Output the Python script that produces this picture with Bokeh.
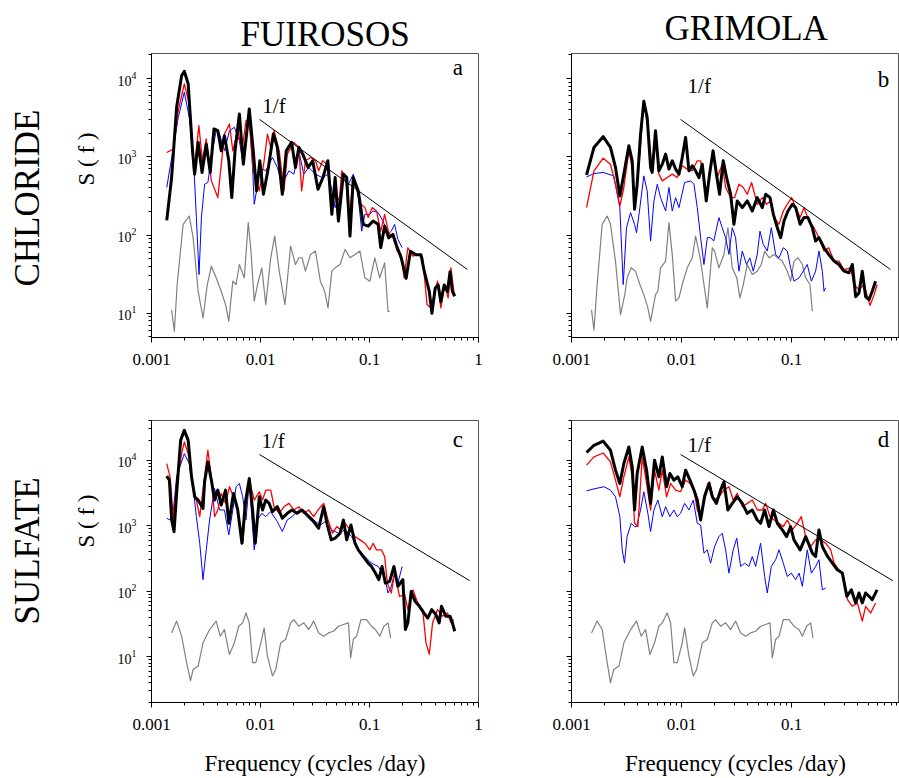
from bokeh.embed import file_html
from bokeh.layouts import column, row
from bokeh.models import CustomJSTickFormatter, Label, Range1d, Title
from bokeh.plotting import figure
from bokeh.resources import INLINE

SERIF = "Liberation Serif"
GREY, BLUE, RED, BLACK = "#808080", "#0000ff", "#ff0000", "#000000"

# ---------------------------------------------------------------- text
sites = ["FUIROSOS", "GRIMOLA"]
solutes = ["CHLORIDE", "SULFATE"]
panel_tags = ["a", "b", "c", "d"]
x_title = "Frequency (cycles /day)"
y_title = "S ( f )"
slope_tag = "1/f"

# ---------------------------------------------------------------- spectra, (frequency, power) pairs
# a: Fuirosos chloride
a_black = [(0.00138, 154), (0.00153, 543), (0.00170, 4290), (0.00189, 10900), (0.00200, 12400),
           (0.00217, 8550), (0.00238, 1190), (0.00249, 600), (0.00268, 1530), (0.00291, 630),
           (0.00318, 1450), (0.00346, 630), (0.00374, 2270), (0.00406, 2160), (0.00436, 1190),
           (0.00467, 1860), (0.00512, 889), (0.00545, 301), (0.00584, 1190), (0.00640, 3530),
           (0.00696, 805), (0.00789, 4090), (0.00858, 1190), (0.00920, 366), (0.00986, 889),
           (0.01064, 332), (0.01182, 730), (0.01312, 1960), (0.01427, 1320), (0.01585, 332),
           (0.01723, 1190), (0.01927, 1530), (0.02094, 730), (0.02246, 1320), (0.02443, 1080),
           (0.02731, 730), (0.03012, 889), (0.03367, 384), (0.03739, 543), (0.0415, 889),
           (0.04513, 184), (0.04838, 543), (0.05188, 151), (0.05763, 600), (0.0618, 543),
           (0.06624, 97), (0.07103, 543), (0.07889, 366), (0.08757, 137), (0.09727, 130),
           (0.1080, 151), (0.1199, 137), (0.1268, 69), (0.1377, 130), (0.1499, 92),
           (0.1641, 102), (0.1797, 69), (0.1954, 51), (0.2169, 28), (0.2374, 62),
           (0.2673, 56), (0.2969, 56), (0.3184, 34), (0.3536, 19), (0.3738, 10),
           (0.4009, 21), (0.4266, 23), (0.4513, 14), (0.4842, 23), (0.5188, 19),
           (0.5485, 34), (0.5763, 19), (0.6053, 16.5)]
a_red = [(0.00138, 1135), (0.00159, 1255), (0.00176, 3890), (0.00200, 8540), (0.00222, 4730),
         (0.00244, 600), (0.00272, 2500), (0.00293, 889), (0.00318, 1690), (0.00354, 492),
         (0.00406, 301), (0.00467, 1953), (0.00519, 2625), (0.00557, 1194), (0.00618, 2155),
         (0.00676, 1194), (0.00736, 2895), (0.00789, 2760), (0.00858, 662), (0.00975, 367),
         (0.01080, 889), (0.01158, 1953), (0.01241, 1317), (0.01331, 2155), (0.01485, 1194),
         (0.01642, 367), (0.01760, 1082), (0.02023, 1530), (0.02246, 1317), (0.02385, 367),
         (0.02585, 889), (0.02878, 980), (0.03195, 889), (0.03415, 662), (0.03715, 889),
         (0.04067, 805), (0.04513, 247), (0.04838, 367), (0.05125, 167), (0.05565, 662),
         (0.06052, 543), (0.06487, 137), (0.06957, 446), (0.0762, 405), (0.0836, 247),
         (0.0907, 224), (0.0973, 167), (0.1057, 224), (0.1159, 203), (0.1268, 112),
         (0.1377, 184), (0.1499, 107), (0.1641, 92.5), (0.1797, 62.4), (0.1954, 56.5),
         (0.2075, 28.4), (0.2248, 68.8), (0.2501, 53.8), (0.2771, 56.5), (0.3075, 51.2),
         (0.3372, 12.9), (0.3666, 11.7), (0.3925, 17.3), (0.4209, 25.7), (0.4513, 11.7),
         (0.4907, 23.3), (0.5262, 15.7), (0.5587, 38.1), (0.5932, 19.1), (0.6053, 17.3)]
a_blue = [(0.00138, 405), (0.00159, 1317), (0.00176, 3190), (0.00200, 6680), (0.00222, 3190),
          (0.00241, 1194), (0.00258, 167), (0.00273, 31.3), (0.00287, 167), (0.00307, 446),
          (0.00329, 469), (0.00354, 980), (0.00392, 2155), (0.00421, 1953), (0.00467, 1194),
          (0.00519, 2155), (0.00576, 2380), (0.00640, 1604), (0.00686, 889), (0.00736, 1770),
          (0.00789, 3040), (0.00846, 730), (0.00876, 247), (0.00920, 367), (0.00986, 730),
          (0.01118, 662), (0.01287, 980), (0.01427, 730), (0.01585, 446), (0.01822, 662),
          (0.02023, 600), (0.02246, 1194), (0.02495, 600), (0.02771, 730), (0.03195, 600),
          (0.03662, 543), (0.04210, 600), (0.04513, 367), (0.04838, 224), (0.05262, 301),
          (0.05763, 543), (0.06410, 446), (0.07103, 600), (0.07889, 301), (0.08484, 112),
          (0.0907, 184), (0.1007, 184), (0.1080, 203), (0.1199, 194), (0.1331, 151),
          (0.1478, 102), (0.1585, 112), (0.1698, 137), (0.1822, 88), (0.1995, 68.8)]
a_grey = [(0.00153, 11.1), (0.00162, 5.9), (0.00172, 23.3), (0.00195, 137), (0.00222, 175),
          (0.00241, 92.5), (0.00268, 19.1), (0.00297, 8.7), (0.00325, 23.3), (0.00354, 40),
          (0.00392, 28.4), (0.00436, 19.1), (0.00478, 12.9), (0.00512, 7.9), (0.00557, 25.7),
          (0.00597, 23.3), (0.00640, 42), (0.00710, 28.4), (0.00772, 144), (0.00818, 62.4),
          (0.00876, 14.3), (0.00939, 23.3), (0.01028, 38.1), (0.01118, 12.9), (0.01241, 51.2),
          (0.01350, 97), (0.01485, 34.5), (0.01676, 12.9), (0.01888, 72), (0.02094, 42),
          (0.02246, 51.2), (0.02409, 51.2), (0.02585, 34.5), (0.02878, 56.5), (0.03195, 62.4),
          (0.03539, 25.7), (0.03881, 19.1), (0.04163, 11.7), (0.04513, 34.5), (0.04838, 38.1),
          (0.05374, 42), (0.05969, 65.5), (0.06624, 51.2), (0.07362, 56.5), (0.08167, 62.4),
          (0.0907, 28.4), (0.1007, 25.7), (0.1118, 51.2), (0.1241, 28.4), (0.1377, 44),
          (0.1478, 10.6), (0.1531, 10.6)]

# b: Grimola chloride
b_black = [(0.00137, 588), (0.00160, 1317), (0.00194, 1810), (0.00226, 1317), (0.00251, 730),
           (0.00275, 316), (0.00299, 600), (0.00332, 1385), (0.00356, 889), (0.00374, 214),
           (0.00395, 446), (0.00424, 1953), (0.00454, 5120), (0.00487, 3190), (0.00523, 730),
           (0.00541, 631), (0.00580, 2155), (0.00622, 662), (0.00668, 805), (0.00716, 1082),
           (0.00768, 696), (0.00823, 889), (0.00883, 696), (0.00947, 600), (0.01014, 980),
           (0.01088, 1770), (0.01167, 662), (0.01252, 767), (0.01341, 662), (0.01438, 543),
           (0.01542, 805), (0.01676, 273), (0.01798, 600), (0.01933, 1194), (0.02073, 600),
           (0.02214, 332), (0.02391, 889), (0.02564, 543), (0.02791, 332), (0.02991, 137),
           (0.03207, 273), (0.03563, 224), (0.03952, 273), (0.04390, 203), (0.04873, 301),
           (0.05411, 224), (0.05807, 332), (0.06361, 301), (0.06824, 184), (0.07415, 124),
           (0.07950, 92.5), (0.08523, 151), (0.09262, 203), (0.1014, 247), (0.1088, 224),
           (0.1195, 137), (0.1295, 167), (0.1407, 167), (0.1542, 124), (0.1652, 83.8),
           (0.1771, 92.5), (0.1969, 68.8), (0.2169, 56.5), (0.2431, 46.4), (0.2691, 42),
           (0.2990, 34.5), (0.3322, 33), (0.3560, 42), (0.3817, 16.3), (0.4090, 18.1),
           (0.4385, 34.5), (0.4700, 16.3), (0.5040, 14.9), (0.5400, 19.1), (0.5790, 25.7)]
b_red = [(0.00137, 224), (0.00160, 662), (0.00194, 960), (0.00226, 805), (0.00251, 446),
         (0.00275, 235), (0.00299, 405), (0.00332, 1194), (0.00356, 730), (0.00374, 224),
         (0.00409, 730), (0.00454, 4980), (0.00505, 1953), (0.00541, 662), (0.00580, 1953),
         (0.00622, 600), (0.00668, 492), (0.00741, 543), (0.00823, 600), (0.00913, 543),
         (0.01014, 767), (0.01126, 696), (0.01252, 662), (0.01389, 889), (0.01490, 889),
         (0.01676, 332), (0.01835, 730), (0.01933, 1194), (0.02108, 543), (0.02340, 805),
         (0.02513, 405), (0.02791, 301), (0.03033, 301), (0.03319, 446), (0.03636, 405),
         (0.03952, 332), (0.04329, 469), (0.04873, 247), (0.05411, 301), (0.05926, 247),
         (0.06441, 273), (0.06910, 167), (0.07677, 137), (0.08402, 203), (0.09131, 247),
         (0.1000, 301), (0.1088, 224), (0.1195, 167), (0.1295, 224), (0.1437, 151),
         (0.1596, 124), (0.1771, 92.5), (0.1969, 62.4), (0.2169, 68.8), (0.2431, 46.4),
         (0.2691, 46.4), (0.2990, 36), (0.3435, 38.1), (0.3686, 23.3), (0.4090, 20),
         (0.4545, 23.3), (0.5150, 12.6), (0.5625, 17.3), (0.5975, 23.3)]
b_blue = [(0.00137, 553), (0.00160, 610), (0.00194, 631), (0.00242, 570), (0.00275, 224),
          (0.00295, 23.3), (0.00316, 124), (0.00344, 193), (0.00374, 137), (0.00390, 107),
          (0.00418, 224), (0.00454, 570), (0.00487, 367), (0.00523, 83.8), (0.00561, 273),
          (0.00602, 446), (0.00644, 301), (0.00716, 203), (0.00768, 405), (0.00823, 203),
          (0.00883, 301), (0.00947, 224), (0.01066, 469), (0.01209, 492), (0.01296, 446),
          (0.01389, 224), (0.01490, 92.5), (0.01597, 42), (0.01713, 92.5), (0.01835, 92.5),
          (0.01961, 83.8), (0.02184, 167), (0.02340, 124), (0.02513, 92.5), (0.02694, 56.5),
          (0.02888, 124), (0.03096, 92.5), (0.03319, 34.5), (0.03563, 62.4), (0.03892, 42),
          (0.04173, 51.2), (0.04479, 34.5), (0.04873, 56.5), (0.05157, 112), (0.05525, 75.9),
          (0.06007, 62.4), (0.06533, 124), (0.07155, 56.5), (0.07677, 51.2), (0.08402, 68.8),
          (0.09131, 62.4), (0.09792, 38.1), (0.1050, 25.7), (0.1169, 28.4), (0.1276, 34.5),
          (0.1387, 42), (0.1510, 25.7), (0.1652, 34.5), (0.1771, 62.4), (0.1901, 34.5),
          (0.1969, 19.1), (0.2037, 21.1)]
b_grey = [(0.00152, 11.1), (0.00160, 6.1), (0.00171, 23.3), (0.00190, 137), (0.00211, 175),
          (0.00226, 137), (0.00251, 46.4), (0.00279, 9.6), (0.00305, 17.3), (0.00320, 28.4),
          (0.00349, 38.1), (0.00381, 34.5), (0.00418, 23.3), (0.00454, 17.3), (0.00494, 11.7),
          (0.00523, 7.9), (0.00580, 17.3), (0.00609, 19.1), (0.00644, 38.1), (0.00716, 46.4),
          (0.00768, 144), (0.00823, 56.5), (0.00883, 14.3), (0.00947, 15.7), (0.01014, 23.3),
          (0.01126, 38.1), (0.01252, 51.2), (0.01341, 97), (0.01475, 51.2), (0.01597, 23.3),
          (0.01713, 11.7), (0.01901, 68.8), (0.01995, 62.4), (0.02184, 38.1), (0.02426, 56.5),
          (0.02636, 124), (0.02888, 38.1), (0.03172, 28.4), (0.03390, 15.7), (0.03636, 23.3),
          (0.03952, 42), (0.04390, 31.3), (0.04873, 34.5), (0.05300, 42), (0.05683, 62.4),
          (0.06230, 51.2), (0.06910, 56.5), (0.07415, 51.2), (0.08228, 46.4), (0.09131, 34.5),
          (0.09792, 25.7), (0.1050, 46.4), (0.1143, 51.2), (0.1251, 42), (0.1342, 28.4),
          (0.1467, 23.3), (0.1542, 10.6)]

# c: Fuirosos sulfate
c_black = [(0.00138, 5700), (0.00146, 4970), (0.00153, 1224), (0.00161, 810), (0.00170, 3115),
           (0.00185, 20100), (0.00200, 28600), (0.00217, 20100), (0.00233, 5580), (0.00249, 2770),
           (0.00268, 2465), (0.00297, 1840), (0.00307, 4690), (0.00329, 9430), (0.00354, 4970),
           (0.00379, 2465), (0.00406, 3500), (0.00436, 2070), (0.00478, 3500), (0.00512, 1089),
           (0.00565, 3115), (0.00618, 1738), (0.00676, 541), (0.00725, 2195), (0.00789, 5260),
           (0.00846, 1738), (0.00896, 541), (0.00975, 2770), (0.01044, 1738), (0.01118, 2465),
           (0.01199, 2195), (0.01287, 1640), (0.01427, 1953), (0.01585, 1300), (0.01760, 1546),
           (0.01947, 1738), (0.02161, 1546), (0.02409, 1738), (0.02771, 1376), (0.03075, 1155),
           (0.03415, 915), (0.03800, 1953), (0.04067, 1089), (0.04455, 608), (0.04838, 645),
           (0.05374, 768), (0.05763, 1224), (0.06180, 608), (0.06762, 1027), (0.07362, 541),
           (0.07889, 428), (0.08757, 339), (0.09727, 268), (0.1043, 239), (0.1133, 189),
           (0.1216, 150), (0.1305, 239), (0.1398, 133), (0.1531, 141), (0.1676, 239),
           (0.1822, 119), (0.2023, 150), (0.2135, 26), (0.2248, 32.9), (0.2412, 99),
           (0.2619, 70), (0.2868, 58.9), (0.3149, 46.6), (0.3421, 39), (0.3720, 52.4),
           (0.4065, 44), (0.4360, 32.9), (0.4578, 58.9), (0.5012, 41.5), (0.5485, 41.5),
           (0.5763, 32.9), (0.6053, 24.5)]
c_red = [(0.00138, 8900), (0.00148, 5580), (0.00159, 1224), (0.00170, 4420), (0.00189, 12600),
         (0.00200, 19000), (0.00217, 12600), (0.00233, 4970), (0.00258, 2465), (0.00277, 1376),
         (0.00307, 5580), (0.00329, 14200), (0.00354, 5580), (0.00379, 1376), (0.00406, 1738),
         (0.00436, 3115), (0.00478, 2195), (0.00519, 3935), (0.00565, 2770), (0.00618, 1738),
         (0.00686, 541), (0.00736, 1953), (0.00789, 4970), (0.00876, 2465), (0.00975, 3300),
         (0.01044, 2465), (0.01118, 3500), (0.01241, 3500), (0.01331, 1953), (0.01485, 1546),
         (0.01642, 1953), (0.01822, 2195), (0.02023, 1738), (0.02246, 1953), (0.02495, 1546),
         (0.02771, 1738), (0.03075, 1376), (0.03367, 1738), (0.03800, 2195), (0.04163, 1224),
         (0.04577, 768), (0.05012, 969), (0.05489, 863), (0.05969, 1089), (0.06624, 863),
         (0.07362, 683), (0.08167, 608), (0.0907, 541), (0.1007, 428), (0.1080, 541),
         (0.1159, 428), (0.1287, 428), (0.1377, 339), (0.1457, 133), (0.1585, 94),
         (0.1698, 189), (0.1887, 83.6), (0.2107, 89), (0.2248, 52.4), (0.2501, 105),
         (0.2771, 66.2), (0.3075, 52.4), (0.3298, 16.3), (0.3536, 10.9), (0.3791, 32.9),
         (0.4209, 52.4), (0.4668, 41.5), (0.5188, 46.6), (0.5587, 32.9), (0.5932, 36.9)]
c_blue = [(0.00138, 1300), (0.00148, 1224), (0.00159, 1738), (0.00170, 5580), (0.00200, 12600),
          (0.00222, 8900), (0.00241, 3935), (0.00258, 1376), (0.00277, 541), (0.00297, 150),
          (0.00318, 428), (0.00341, 1224), (0.00379, 3700), (0.00421, 1738), (0.00467, 1738),
          (0.00512, 725), (0.00557, 1738), (0.00597, 3935), (0.00640, 4420), (0.00686, 2770),
          (0.00736, 1224), (0.00789, 4690), (0.00876, 428), (0.00939, 1224), (0.01028, 1546),
          (0.01118, 1376), (0.01241, 1640), (0.01427, 1155), (0.01585, 815), (0.01760, 1224),
          (0.01947, 1376), (0.02246, 1738), (0.02585, 1546), (0.02878, 1376), (0.03195, 1155),
          (0.03539, 1027), (0.03922, 1155), (0.04513, 863), (0.05188, 768), (0.05969, 863),
          (0.06855, 683), (0.07889, 428), (0.0907, 339), (0.1043, 268), (0.1199, 239),
          (0.1377, 168), (0.1478, 94), (0.1585, 119), (0.1698, 189), (0.1822, 133),
          (0.1995, 239)]
c_grey = [(0.00153, 23.1), (0.00170, 35), (0.00189, 20.6), (0.00210, 8.1), (0.00228, 4.3),
          (0.00241, 6.4), (0.00268, 7.2), (0.00297, 16.3), (0.00341, 26), (0.00392, 35),
          (0.00427, 20.6), (0.00467, 26), (0.00519, 10.8), (0.00576, 16.3), (0.00631, 29.2),
          (0.00686, 32.9), (0.00736, 46.6), (0.00789, 32.9), (0.00846, 8.1), (0.00907, 8.1),
          (0.01007, 16.3), (0.01080, 27.6), (0.01158, 10.2), (0.01287, 5.1), (0.01380, 6.4),
          (0.01531, 16.3), (0.01700, 18.3), (0.01888, 32.9), (0.02023, 36.9), (0.02246, 29.2),
          (0.02495, 32.9), (0.02771, 26), (0.03075, 35), (0.03415, 23.1), (0.03800, 20.6),
          (0.04210, 23.1), (0.04675, 24.5), (0.05188, 29.2), (0.05763, 31), (0.06410, 32.9),
          (0.06715, 9.6), (0.07103, 18.3), (0.07621, 20.6), (0.08343, 36.9), (0.09391, 36.9),
          (0.1043, 29.2), (0.1133, 26), (0.1241, 20.6), (0.1358, 29.2), (0.1478, 32.9),
          (0.1563, 19.4)]

# d: Grimola sulfate
d_black = [(0.00137, 13100), (0.00160, 16900), (0.00194, 19600), (0.00226, 14200), (0.00251, 7050),
           (0.00275, 4420), (0.00299, 8900), (0.00332, 15950), (0.00356, 7920), (0.00374, 1738),
           (0.00395, 6270), (0.00439, 15950), (0.00481, 7050), (0.00523, 2195), (0.00568, 10000),
           (0.00622, 5580), (0.00668, 11240), (0.00731, 3935), (0.00783, 6270), (0.00852, 4970),
           (0.00925, 5580), (0.01014, 3935), (0.01088, 7050), (0.01192, 4970), (0.01296, 3500),
           (0.01389, 2465), (0.01490, 1224), (0.01618, 2770), (0.01773, 4420), (0.01901, 2770),
           (0.02073, 2195), (0.02262, 3500), (0.02426, 4690), (0.02636, 1738), (0.02888, 2195),
           (0.03207, 2770), (0.03563, 2195), (0.03952, 1546), (0.04390, 1738), (0.04873, 1224),
           (0.05225, 1089), (0.05683, 1738), (0.06230, 969), (0.06824, 1738), (0.07415, 1089),
           (0.08228, 863), (0.09000, 683), (0.09792, 969), (0.1050, 608), (0.1195, 428),
           (0.1342, 683), (0.1542, 381), (0.1652, 339), (0.1771, 863), (0.1901, 481),
           (0.2121, 339), (0.2345, 268), (0.2600, 212), (0.2889, 189), (0.3171, 83.6),
           (0.3487, 105), (0.3817, 66.2), (0.4090, 94), (0.4385, 66.2), (0.4700, 94),
           (0.5040, 83.6), (0.5400, 74.4), (0.5975, 105)]
d_red = [(0.00137, 8400), (0.00160, 11240), (0.00194, 12900), (0.00226, 9430), (0.00251, 4970),
         (0.00275, 2770), (0.00299, 5580), (0.00332, 11240), (0.00356, 5580), (0.00374, 1089),
         (0.00401, 969), (0.00439, 11240), (0.00481, 4420), (0.00523, 1738), (0.00568, 7050),
         (0.00622, 3500), (0.00668, 7050), (0.00731, 2770), (0.00795, 4420), (0.00883, 3500),
         (0.00979, 3300), (0.01088, 4970), (0.01192, 4420), (0.01296, 3500), (0.01389, 1738),
         (0.01490, 1376), (0.01618, 3115), (0.01798, 4690), (0.01961, 2465), (0.02184, 2770),
         (0.02426, 3500), (0.02694, 3935), (0.02945, 2465), (0.03207, 3115), (0.03563, 1953),
         (0.03952, 2195), (0.04390, 2465), (0.04873, 1738), (0.05411, 1738), (0.05807, 2195),
         (0.06361, 1376), (0.06910, 1224), (0.07677, 1089), (0.08402, 969), (0.09131, 1224),
         (0.1014, 863), (0.1124, 1089), (0.1224, 1376), (0.1342, 683), (0.1488, 481),
         (0.1652, 608), (0.1836, 608), (0.2037, 541), (0.2264, 428), (0.2431, 268),
         (0.2691, 212), (0.2948, 168), (0.3217, 74.4), (0.3560, 58.9), (0.3956, 66.2),
         (0.4385, 35), (0.4700, 58.9), (0.5226, 46.6), (0.5790, 66.2)]
d_blue = [(0.00137, 3400), (0.00160, 3650), (0.00197, 3935), (0.00226, 3500), (0.00251, 2770),
          (0.00275, 1376), (0.00289, 428), (0.00303, 268), (0.00320, 683), (0.00349, 1089),
          (0.00374, 969), (0.00390, 969), (0.00424, 1738), (0.00454, 3300), (0.00494, 1546),
          (0.00523, 815), (0.00561, 1738), (0.00609, 2465), (0.00668, 1376), (0.00716, 1953),
          (0.00783, 1376), (0.00852, 1738), (0.00913, 1376), (0.00979, 1546), (0.01066, 2195),
          (0.01167, 1738), (0.01278, 2465), (0.01389, 1089), (0.01490, 1027), (0.01597, 381),
          (0.01713, 428), (0.01835, 268), (0.01995, 481), (0.02184, 683), (0.02340, 768),
          (0.02513, 428), (0.02694, 189), (0.02945, 428), (0.03172, 645), (0.03439, 239),
          (0.03741, 268), (0.04094, 239), (0.04390, 339), (0.04708, 239), (0.05225, 541),
          (0.05683, 168), (0.06007, 94), (0.06533, 239), (0.07155, 302), (0.07677, 428),
          (0.08402, 268), (0.09131, 168), (0.09930, 189), (0.1088, 150), (0.1169, 189),
          (0.1251, 119), (0.1387, 428), (0.1510, 189), (0.1652, 239), (0.1771, 302),
          (0.1901, 105), (0.2037, 112)]
d_grey = [(0.00152, 23.1), (0.00171, 35), (0.00190, 26), (0.00211, 8.1), (0.00226, 4.0),
          (0.00242, 6.4), (0.00270, 7.2), (0.00299, 16.3), (0.00344, 26), (0.00390, 35),
          (0.00430, 20.6), (0.00471, 26), (0.00516, 10.8), (0.00568, 16.3), (0.00622, 29.2),
          (0.00668, 32.9), (0.00741, 46.6), (0.00795, 32.9), (0.00852, 8.1), (0.00913, 8.1),
          (0.01014, 16.3), (0.01066, 27.6), (0.01167, 10.2), (0.01278, 5.1), (0.01370, 6.4),
          (0.01542, 16.3), (0.01713, 18.3), (0.01901, 32.9), (0.02037, 36.9), (0.02262, 29.2),
          (0.02513, 32.9), (0.02791, 26), (0.03096, 35), (0.03439, 23.1), (0.03829, 20.6),
          (0.04240, 23.1), (0.04708, 24.5), (0.05225, 29.2), (0.05807, 31), (0.06361, 32.9),
          (0.06670, 9.6), (0.07155, 18.3), (0.07677, 20.6), (0.08402, 36.9), (0.09457, 36.9),
          (0.1050, 29.2), (0.1169, 26), (0.1251, 20.6), (0.1367, 29.2), (0.1488, 32.9),
          (0.1563, 19.4)]

# 1/f reference lines (chloride row, sulfate row)
ref_cl_f = [0.0098, 0.79]
ref_cl_s = [3000, 36.3]
ref_so4_f = [0.0098, 0.83]
ref_so4_s = [12200, 145]


def unzip(pairs):
    return [p[0] for p in pairs], [p[1] for p in pairs]


def spectrum_panel(width, height, x_end, y_lo, y_hi, borders, y_labels):
    left, right, top, bottom = borders
    p = figure(width=width, height=height,
               x_axis_type="log", y_axis_type="log",
               x_range=Range1d(0.001, x_end), y_range=Range1d(y_lo, y_hi),
               output_backend="svg", toolbar_location=None,
               min_border_left=left, min_border_right=right,
               min_border_top=top, min_border_bottom=bottom)
    p.grid.visible = False
    p.background_fill_color = "white"
    p.border_fill_color = "white"
    p.outline_line_color = "#555555"
    for ax in (p.xaxis[0], p.yaxis[0]):
        ax.axis_line_color = "black"
        ax.major_tick_line_color = "black"
        ax.minor_tick_line_color = "black"
        ax.major_tick_in = 0
        ax.major_tick_out = 5
        ax.minor_tick_in = 0
        ax.minor_tick_out = 3
        ax.major_label_text_font = SERIF
        ax.major_label_text_color = "black"
    p.xaxis.formatter = CustomJSTickFormatter(
        code="return Number(tick.toPrecision(3)).toString();")
    p.xaxis.major_label_text_font_size = "17px"
    p.xaxis.major_label_standoff = 11
    p.yaxis.major_label_text_font_size = "14px"
    p.yaxis.major_label_standoff = 10
    if not y_labels:
        p.yaxis.formatter = CustomJSTickFormatter(code="return '';")
    return p


def style_title(t, size, offset, standoff, valign):
    t.text_font = SERIF
    t.text_font_size = size
    t.text_font_style = "normal"
    t.text_color = "black"
    t.align = "left"
    t.offset = offset
    t.standoff = standoff
    t.vertical_align = valign
    return t


def side_title(p, txt, size, offset, standoff, valign):
    p.add_layout(style_title(Title(text=txt), size, offset, standoff, valign), "left")


def draw_spectra(p, grey, blue, red, black, ref_f, ref_s):
    for pairs, colour, w in ((grey, GREY, 1.2), (blue, BLUE, 1.0),
                             (red, RED, 1.3), (black, BLACK, 3.0)):
        f, s = unzip(pairs)
        p.line(f, s, line_color=colour, line_width=w, line_join="round")
    p.line(ref_f, ref_s, line_color="black", line_width=1)


def tag(p, x, y, txt, size):
    p.add_layout(Label(x=x, y=y, text=txt, text_font=SERIF, text_font_size=size,
                       text_color="black", text_baseline="alphabetic"))


def x_axis_title(p):
    p.xaxis.axis_label = x_title
    p.xaxis.axis_label_text_font = SERIF
    p.xaxis.axis_label_text_font_size = "23px"
    p.xaxis.axis_label_text_font_style = "normal"
    p.xaxis.axis_label_text_color = "black"
    p.xaxis.axis_label_standoff = 18


pa = spectrum_panel(520, 390, 1.0, 4.9, 20900, (148, 42, 53, 53), True)
pb = spectrum_panel(379, 390, 0.955, 4.9, 20900, (51, 0, 53, 53), False)
pc = spectrum_panel(520, 388, 1.0, 2.0, 40400, (148, 42, 30, 75), True)
pd = spectrum_panel(379, 388, 0.955, 2.0, 40400, (51, 0, 30, 75), False)

draw_spectra(pa, a_grey, a_blue, a_red, a_black, ref_cl_f, ref_cl_s)
draw_spectra(pb, b_grey, b_blue, b_red, b_black, ref_cl_f, ref_cl_s)
draw_spectra(pc, c_grey, c_blue, c_red, c_black, ref_so4_f, ref_so4_s)
draw_spectra(pd, d_grey, d_blue, d_red, d_black, ref_so4_f, ref_so4_s)

# slope tags and panel letters
tag(pa, 0.0104, 4500, slope_tag, "21px")
tag(pb, 0.01135, 8100, slope_tag, "21px")
tag(pc, 0.0102, 20000, slope_tag, "21px")
tag(pd, 0.01135, 16900, slope_tag, "21px")
tag(pa, 0.58, 13800, panel_tags[0], "23px")
tag(pb, 0.605, 9700, panel_tags[1], "23px")
tag(pc, 0.58, 20700, panel_tags[2], "23px")
tag(pd, 0.605, 20700, panel_tags[3], "23px")

# column headings
pa.title.text = sites[0]
style_title(pa.title, "35px", 89, 0, "bottom")
pb.title.text = sites[1]
style_title(pb.title, "35px", 93, 12, "bottom")

# power axis title, then row heading, stacked outward from the axis
side_title(pa, y_title, "23px", 152, 31, "bottom")
side_title(pa, solutes[0], "35px", 51, 15, "top")
side_title(pc, y_title, "23px", 155, 31, "bottom")
side_title(pc, solutes[1], "35px", 78, 15, "top")

x_axis_title(pc)
x_axis_title(pd)

layout = column(row(pa, pb), row(pc, pd))

with open("out.html", "w") as fh:
    fh.write(file_html(layout, INLINE))
